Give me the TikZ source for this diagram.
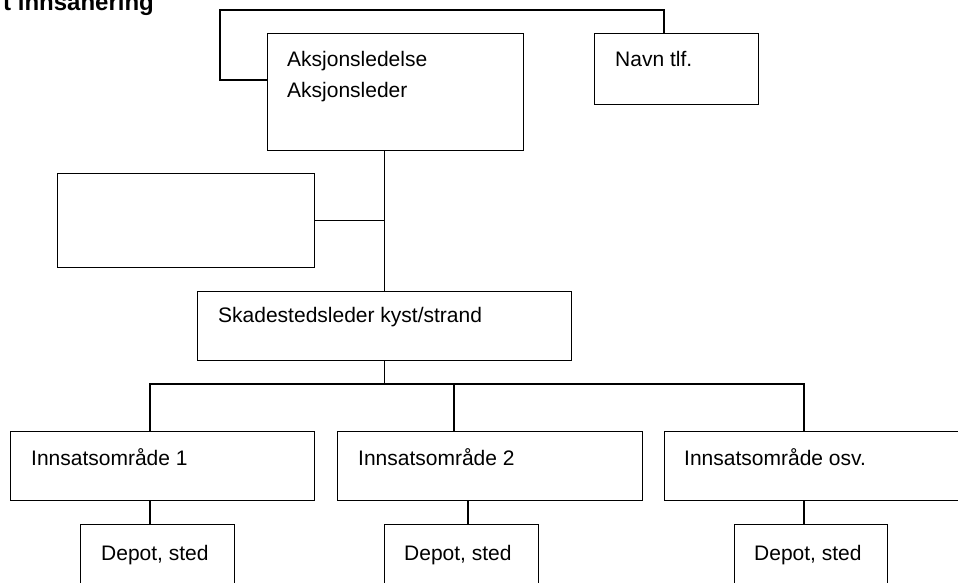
\documentclass[tikz,border=0pt]{standalone}
\usepackage{fontspec}
\setmainfont{Liberation Sans}
\begin{document}
\begin{tikzpicture}[x=1pt,y=-1pt,
  box/.style={draw=black,line width=1.3pt,rectangle,inner sep=0pt,anchor=north west},
  lbl/.style={anchor=base west,inner sep=0pt,font=\fontsize{21}{25}\selectfont},
  conn/.style={draw=black,line width=1.3pt}]
\useasboundingbox (0,0) rectangle (958,583);
% title (cut by the page top)
\node[anchor=base west,inner sep=0pt,font=\fontsize{24}{28}\bfseries] (title) at (3,11) {t innsanering};
% boxes
\node[box,minimum width=256pt,minimum height=117pt] (ak) at (267,33) {};
\node[box,minimum width=164pt,minimum height=71pt] (nv) at (594,33) {};
\node[box,minimum width=257pt,minimum height=94pt] (emp) at (57,173) {};
\node[box,minimum width=374pt,minimum height=69pt] (sk) at (197,291) {};
\node[box,minimum width=304pt,minimum height=69pt] (i1) at (10,431) {};
\node[box,minimum width=305pt,minimum height=69pt] (i2) at (337,431) {};
\node[box,minimum width=320pt,minimum height=69pt] (i3) at (664,431) {};
\node[box,minimum width=154pt,minimum height=80pt] (d1) at (80,524) {};
\node[box,minimum width=154pt,minimum height=80pt] (d2) at (384,524) {};
\node[box,minimum width=153pt,minimum height=80pt] (d3) at (734,524) {};
% labels
\node[lbl] (t1) at (287,67) {Aksjonsledelse};
\node[lbl] (t2) at (287,98) {Aksjonsleder};
\node[lbl] (t3) at (615,67) {Navn tlf.};
\node[lbl] (t4) at (218,322) {Skadestedsleder kyst/strand};
\node[lbl] (t5) at (31,465) {Innsatsområde 1};
\node[lbl] (t6) at (358,465) {Innsatsområde 2};
\node[lbl] (t7) at (684,465) {Innsatsområde osv.};
\node[lbl] (t8) at (101,560) {Depot, sted};
\node[lbl] (t9) at (404,560) {Depot, sted};
\node[lbl] (t10) at (754,560) {Depot, sted};
% connector helper coordinates
\coordinate (lk) at (220,80);
\coordinate (tl) at (220,10);
\coordinate (nvtop) at (664,33);
\coordinate (bus) at (0,384);
\coordinate (x1) at (150,0);
\coordinate (x2) at (454,0);
\coordinate (x3) at (804,0);
\coordinate (xd2) at (468,0);
% connectors
\draw[conn] (ak.west |- lk) -- (lk) |- (tl) -| (nvtop);
\draw[conn] (sk.north) -- (sk.north |- ak.south);
\draw[conn] (emp.east) -- (emp.east -| sk.north);
\draw[conn] (sk.south) -- (sk.south |- bus);
\draw[conn] (i1.north -| x1) -- (x1 |- bus) -- (x3 |- bus) -- (i3.north -| x3);
\draw[conn] (x2 |- bus) -- (i2.north -| x2);
\draw[conn] (i1.south -| x1) -- (d1.north -| x1);
\draw[conn] (i2.south -| xd2) -- (d2.north -| xd2);
\draw[conn] (i3.south -| x3) -- (d3.north -| x3);
\end{tikzpicture}
\end{document}
